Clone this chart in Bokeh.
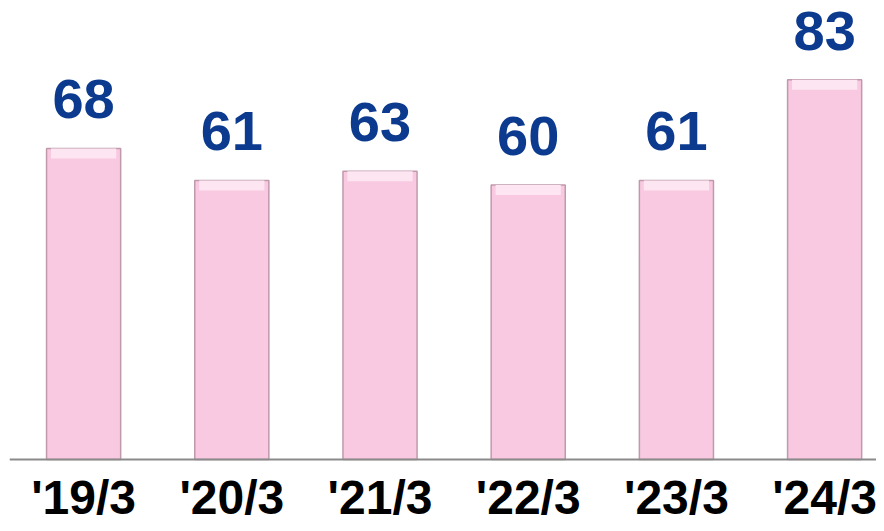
from bokeh.plotting import figure
from bokeh.models import Range1d, ColumnDataSource, Span
from bokeh.core.properties import value
from bokeh.embed import file_html
from bokeh.resources import INLINE

categories = ["'19/3", "'20/3", "'21/3", "'22/3", "'23/3", "'24/3"]
values = [68, 61, 63, 60, 61, 83]

xs = list(range(len(categories)))
labels = [str(v) for v in values]
hl_bottom = [v - 2.2 for v in values]
zeros = [0] * len(values)

src = ColumnDataSource(dict(x=xs, top=values, lab=labels, hlb=hl_bottom,
                            cat=categories, zero=zeros))

FONT = value("Liberation Sans")

p = figure(width=876, height=523, output_backend="svg", toolbar_location=None,
           x_range=Range1d(-0.5, 5.35), y_range=Range1d(-13.99, 100.33),
           min_border_left=9, min_border_right=0, min_border_top=0, min_border_bottom=0)
p.outline_line_color = None
p.xgrid.visible = False
p.ygrid.visible = False
p.xaxis.visible = False
p.yaxis.visible = False

p.vbar(x="x", top="top", bottom=0, width=0.5, source=src,
       fill_color="#f9c9e1", line_color="#bf9aab", line_width=1.5)
p.vbar(x="x", top="top", bottom="hlb", width=0.44, source=src,
       fill_color="#fde6f1", line_color=None)

p.add_layout(Span(location=0, dimension="width", line_color="#8a8a8a", line_width=2))

p.text(x="x", y="top", text="lab", source=src, text_align="center",
       text_baseline="alphabetic", y_offset=-49, text_color="#0b3a8e",
       text_font=FONT, text_font_style="bold", text_font_size="56px")

p.text(x="x", y="zero", text="cat", source=src, text_align="center",
       text_baseline="alphabetic", y_offset=38, text_color="#000000",
       text_font=FONT, text_font_style="bold", text_font_size="48px")

open("out.html", "w").write(file_html(p, INLINE))
